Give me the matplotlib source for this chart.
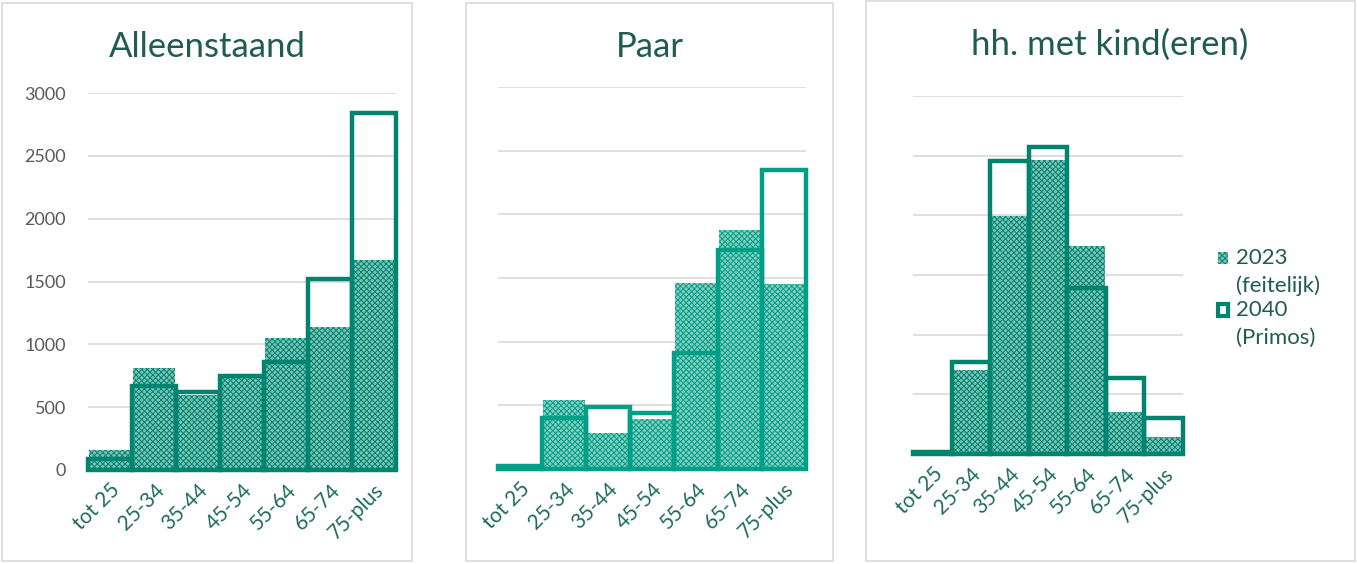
import matplotlib
matplotlib.use("Agg")
import matplotlib.pyplot as plt
from matplotlib.patches import Rectangle
import numpy as np

plt.rcParams['font.family'] = ['Lato', 'DejaVu Sans']
plt.rcParams['hatch.linewidth'] = 0.7

categories = ["tot 25", "25-34", "35-44", "45-54", "55-64", "65-74", "75-plus"]

alleen_2023 = [157, 809, 594, 766, 1051, 1137, 1674]
alleen_2040 = [86, 666, 623, 751, 857, 1523, 2837]

paar_2023 = [25, 542, 282, 395, 1463, 1879, 1455]
paar_2040 = [25, 401, 486, 438, 910, 1723, 2345]

kind_2023 = [10, 702, 1997, 2464, 1747, 355, 145]
kind_2040 = [15, 768, 2455, 2575, 1395, 636, 301]

titles = ["Alleenstaand", "Paar", "hh. met kind(eren)"]
legend_lines = [("2023", "(feitelijk)"), ("2040", "(Primos)")]

W, H = 1357, 564
fig = plt.figure(figsize=(W / 100, H / 100), dpi=100)

def fx(px):
    return px / W

def fy(py):
    return 1 - py / H

# panel borders (pixels: left, top, right, bottom)
panels = [(2, 3, 412, 561), (466, 3, 833, 561), (866, 1, 1355, 561)]
for l, t, r, b in panels:
    fig.patches.append(Rectangle((fx(l), fy(b)), fx(r - l), (b - t) / H,
                                 transform=fig.transFigure, fill=False,
                                 edgecolor="#d9d9d9", linewidth=1.2))

# axes rectangles (pixels: left, top(=3000), right, bottom(=0))
axes_px = [(88, 93, 396, 470), (498, 87, 806, 469), (913, 96, 1183, 454)]
colors = ["#00846f", "#00a088", "#00846f"]
fills = ["#7cc2b6", "#84ccbe", "#7cc2b6"]
data = [(alleen_2023, alleen_2040), (paar_2023, paar_2040), (kind_2023, kind_2040)]
title_pos = [(207, 47), (650, 47), (1110, 45)]
HATCH = "xxxxxx"

x = np.arange(len(categories))
for i, ((l, t, r, b), col, fc, (v23, v40), title) in enumerate(
        zip(axes_px, colors, fills, data, titles)):
    ax = fig.add_axes([fx(l), fy(b), fx(r - l), (b - t) / H])
    ax.set_xlim(-0.5, 6.5)
    ax.set_ylim(0, 3000)
    ax.set_yticks(np.arange(0, 3001, 500))
    ax.yaxis.grid(True, color="#d9d9d9", linewidth=1.2)
    ax.set_axisbelow(True)
    for s in ax.spines.values():
        s.set_visible(False)
    ax.axhline(0, color="#7fc4b8", linewidth=1.5, zorder=1)
    ax.bar(x, v23, width=0.94, color=fc, edgecolor=col, linewidth=0,
           hatch=HATCH, zorder=2)
    ax.bar(x, v40, width=1.0, fill=False, edgecolor=col, linewidth=3.2,
           zorder=3, clip_on=False)
    ax.set_xticks(x)
    ax.set_xticklabels(categories, rotation=45, ha="right",
                       rotation_mode="anchor", fontsize=15, color="#1e6b5e")
    ax.tick_params(axis="x", length=0, pad=7)
    ax.tick_params(axis="y", length=0, pad=16, labelsize=13,
                   labelcolor="#595959")
    if i != 0:
        ax.set_yticklabels([])
    fig.text(fx(title_pos[i][0]), fy(title_pos[i][1]), title, ha="center",
             va="center", fontsize=25, color="#1f5c52")
    if i == 2:
        # manual legend: patch aligned with first line of each label
        leg_rows = [(258, legend_lines[0], dict(facecolor=fc, edgecolor=col,
                                                linewidth=0, hatch=HATCH)),
                    (310, legend_lines[1], dict(facecolor="white", edgecolor=col,
                                                linewidth=3))]
        for yy, (l1, l2), style in leg_rows:
            fig.patches.append(Rectangle((fx(1218), fy(yy + 6)), fx(10), 12 / H,
                                         transform=fig.transFigure, **style))
            fig.text(fx(1236), fy(yy), l1, ha="left", va="center",
                     fontsize=16, color="#1f5c52")
            fig.text(fx(1236), fy(yy + 28), l2, ha="left", va="center",
                     fontsize=16, color="#1f5c52")

fig.savefig("out.png", dpi=100)
